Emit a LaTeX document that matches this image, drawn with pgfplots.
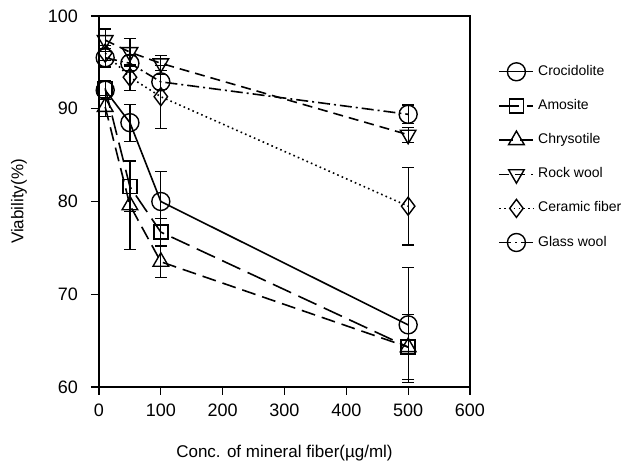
\documentclass[border=0pt]{standalone}
\usepackage{fontspec}
\setmainfont{Liberation Sans}
\usepackage{pgfplots}
\pgfplotsset{compat=1.18}
\begin{document}
\begin{tikzpicture}
\path[use as bounding box] (-49.5pt,-42pt) rectangle (264.5pt,193.5pt);
\begin{axis}[
  at={(0,0)}, anchor=south west, scale only axis,
  width=185.5pt, height=185.5pt,
  xmin=0, xmax=600, ymin=60, ymax=100,
  xtick={0,100,...,600}, ytick={60,70,...,100},
  tick align=outside, tick pos=left, major tick length=4pt,
  axis line style={line width=0.8pt},
  every tick/.style={line width=0.6pt, black},
  /pgf/number format/assume math mode=true,
  tick label style={font=\fontsize{9}{10}\selectfont},
  yticklabel style={xshift=-3pt},
  xticklabel style={yshift=-1pt},
  every axis x label/.style={at={(axis description cs:0.5,0)}, yshift=-33pt, anchor=center},
  every axis y label/.style={at={(axis description cs:0,0.5)}, xshift=-40pt, rotate=90, anchor=center},
  label style={font=\fontsize{8.5}{10}\selectfont},
  xlabel={Conc. of mineral fiber(µg/ml)},
  ylabel={Viability(\%)},
  legend style={at={(rel axis cs:1.06,0.89)}, anchor=north west, draw=none, fill=none,
    font=\fontsize{7}{8}\selectfont, row sep=6.5pt, cells={anchor=west},
    legend image post style={line width=0.7pt}},
  every axis plot/.append style={line width=0.8pt, black},
  error bars/y dir=both, error bars/y explicit,
  error bars/error bar style={solid, line width=0.6pt},
  error bars/error mark options={rotate=90, mark size=3pt, line width=0.6pt},
]
% Crocidolite
\addplot[solid, mark=o, mark size=4.5pt, mark options={solid, fill=white, line width=0.7pt}] coordinates {
 (10,92.0) +- (0,1.0)
 (50,88.5) +- (0,2.0)
 (100,80.0) += (0,3.2) -= (0,1.8)
 (500,66.7) +- (0,6.2)
};
\addlegendentry{Crocidolite}
% Amosite
\addplot[dash pattern=on 10pt off 4pt, mark=square, mark size=3.5pt, mark options={solid, fill=white, line width=0.7pt}] coordinates {
 (10,92.2) +- (0,0.8)
 (50,81.6) +- (0,2.7)
 (100,76.7) +- (0,1.5)
 (500,64.3) +- (0,3.5)
};
\addlegendentry{Amosite}
% Chrysotile
\addplot[dash pattern=on 7pt off 3.5pt, mark=triangle, mark size=4.5pt, mark options={solid, fill=white, line width=0.7pt}] coordinates {
 (10,90.2) +- (0,1.0)
 (50,79.6) +- (0,4.8)
 (100,73.5) +- (0,1.7)
 (500,64.3) +- (0,3.5)
};
\addlegendentry{Chrysotile}
% Rock wool
\addplot[dash pattern=on 5pt off 3pt, mark=triangle, mark size=4.5pt, mark options={solid, fill=white, line width=0.7pt, rotate=180}] coordinates {
 (10,97.4) +- (0,1.2)
 (50,96.1) +- (0,1.5)
 (100,94.9) +- (0,0.8)
 (500,87.2) +- (0,0.8)
};
\addlegendentry{Rock wool}
% Ceramic fiber
\addplot[dash pattern=on 0.8pt off 1.6pt, mark=diamond, mark size=4.5pt, mark options={solid, fill=white, line width=0.7pt}] coordinates {
 (10,96.0) +- (0,0.8)
 (50,93.4) +- (0,1.4)
 (100,91.3) +- (0,3.4)
 (500,79.5) +- (0,4.2)
};
\addlegendentry{Ceramic fiber}
% Glass wool
\addplot[dash pattern=on 6pt off 2pt on 1pt off 2pt, mark=o, mark size=4.5pt, mark options={solid, fill=white, line width=0.7pt}] coordinates {
 (10,95.5) +- (0,1.0)
 (50,94.9) +- (0,0.8)
 (100,92.9) +- (0,0.8)
 (500,89.4) +- (0,1.0)
};
\addlegendentry{Glass wool}
\end{axis}
\end{tikzpicture}
\end{document}
